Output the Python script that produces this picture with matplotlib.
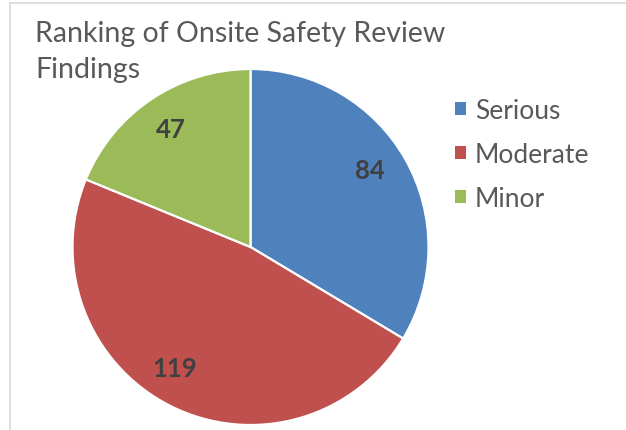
import matplotlib
matplotlib.use("Agg")
import matplotlib.pyplot as plt
import matplotlib.patches as mpatches
from matplotlib.lines import Line2D
import numpy as np

# chart data
categories = ["Serious", "Moderate", "Minor"]
counts = [84, 119, 47]
colors = ["#4F81BD", "#C0504D", "#9BBB59"]
title_lines = ["Ranking of Onsite Safety Review", "Findings"]

# small angular nudges (degrees) so labels sit where Excel put them
label_shift = [3.4, -5.3, 0.0]

W, H = 626, 431
plt.rcParams['font.family'] = ['Lato', 'DejaVu Sans']

fig = plt.figure(figsize=(W / 100, H / 100), dpi=100)

def fx(x):
    return x / W

def fy(y):
    return 1 - y / H

# light chart border (top and left visible)
fig.add_artist(Line2D([fx(10), 1.0], [fy(4), fy(4)], color="#d9d9d9", lw=1.2))
fig.add_artist(Line2D([fx(10), fx(10)], [fy(4), 0.0], color="#d9d9d9", lw=1.2))

# pie
cx, cy, r = 250.5, 248, 178
ax = fig.add_axes([fx(cx - r), fy(cy + r), 2 * r / W, 2 * r / H])
total = sum(counts)
wedges, texts, autotexts = ax.pie(
    counts, colors=colors, startangle=90, counterclock=False,
    wedgeprops=dict(edgecolor="white", linewidth=1.6),
    autopct=lambda p: "%d" % round(p * total / 100), pctdistance=0.8,
    textprops=dict(color="#404040", fontsize=18.5, fontweight="bold"))
for w, t, s in zip(wedges, autotexts, label_shift):
    ang = np.deg2rad((w.theta1 + w.theta2) / 2 + s)
    t.set_position((0.8 * np.cos(ang), 0.8 * np.sin(ang)))
    t.set_ha("center")
    t.set_va("center")
ax.set_xlim(-1, 1)
ax.set_ylim(-1, 1)
ax.set_aspect("equal")
ax.axis("off")

# title
fig.text(fx(35), fy(42), title_lines[0], fontsize=20.5, color="#595959", va="baseline", ha="left")
fig.text(fx(35), fy(78), title_lines[1], fontsize=20.5, color="#595959", va="baseline", ha="left")

# legend
handles = [mpatches.Patch(facecolor=c, edgecolor="none") for c in colors]
leg = fig.legend(handles, categories, loc="upper left",
                 bbox_to_anchor=(fx(455), fy(99)), frameon=False,
                 fontsize=19, handlelength=0.42, handleheight=0.42,
                 handletextpad=0.34, labelspacing=0.72, borderpad=0,
                 borderaxespad=0)
for t in leg.get_texts():
    t.set_color("#595959")

fig.savefig("out.png", dpi=100)
